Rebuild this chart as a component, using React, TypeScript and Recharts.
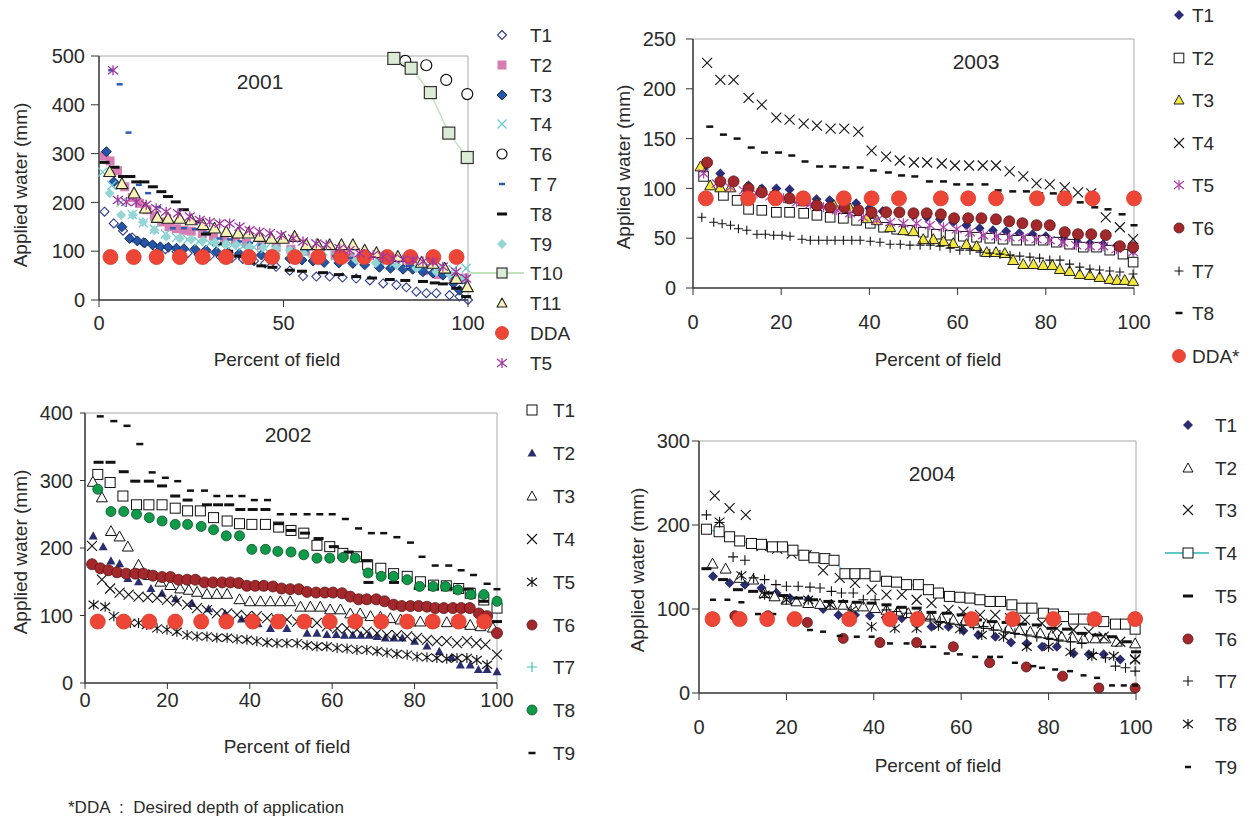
import React from "react";
import { ScatterChart, Scatter, XAxis, YAxis, ReferenceLine } from "recharts";

type Pt = [number, number];

// ---- 2001 (percent of field, applied water mm) ----
const y01T1: Pt[] = [[1.5,181],[4,157],[6.5,142],[9,128],[12,118],[15,110],[18,104],[21,99],[24,96],[27,93],[30,90],[33,88],[36,86],[39,84],[42,80],[45,75],[48,68],[51.7,60],[55.3,49],[58.9,48],[62.5,48],[66,46],[69.7,44],[73.4,40],[77,34],[80.6,31],[83.3,26],[86,17],[88.7,14],[91.4,14],[95,10],[97.7,7],[100,0]];
const y01T2: Pt[] = [[1.5,295],[3,285],[5,265],[7,232],[9,210],[11,198],[13,185],[15,172],[17,160],[19,150],[21,146],[23,143],[25,141],[28,136],[31,131],[34,126],[37,121],[40,116],[44,112],[48,108],[52,104],[56,100],[60,96],[64,92],[68,88],[72,84],[76,80],[80,75],[84,70],[88,60],[92,52],[96,48],[99,45]];
const y01T3: Pt[] = [[2,304],[4,242],[6.2,150],[8.3,126],[10.4,121],[12.4,117],[14.5,113],[16.6,109],[18.8,108],[21,106],[23,105],[26,104],[29,102],[31.8,99],[35,97],[38,95],[41,93],[44,92],[47,89],[51.7,85],[55,82],[58,80],[61,77],[65,76],[68.8,75],[72,72],[76,67],[79,65],[82.4,63],[85,63],[87.8,58],[90.5,55],[93.2,51],[96,34],[97.7,20]];
const y01T4: Pt[] = [[1,262],[3.5,235],[6,200],[9,175],[12,158],[15,145],[18,135],[21,128],[24,124],[27,120],[30,117],[33,114],[36,112],[39,110],[42,108],[45,105],[48,102],[52,98],[56,95],[60,92],[64,90],[68,87],[72,84],[76,80],[80,77],[84,74],[88,70],[92,66],[96,62],[99.5,65]];
const y01T6: Pt[] = [[83,490],[88.7,481],[94.1,451],[99.8,422]];
const y01T7: Pt[] = [[3.3,471],[5.6,442],[8,343],[10.8,236],[13.3,219],[16,190],[20,147],[23,147],[26,145],[29,138],[32.7,126],[35.5,124],[38,120],[41,117],[44,113],[48,108],[52,104],[56,100],[60,95],[64,90],[68,86],[72,82],[76,78],[80,75],[84,70],[88,62],[92,55],[96,45],[99,35]];
const y01T8: Pt[] = [[1.5,282],[4.2,272],[6.5,253],[8.5,253],[10.1,242],[12.3,242],[14.6,232],[16.9,222],[18.7,212],[20.8,201],[23,185],[26,160],[29,135],[32,115],[35,100],[38,90],[41,76],[44,70],[47,67],[51.7,61],[55,59],[60.7,56],[65,52],[69.7,48],[74,45],[78.8,42],[83,40],[87.8,38],[91,35],[93.2,33],[96.8,24],[99.5,7]];
const y01T9: Pt[] = [[2.9,219],[6,174],[9.2,174],[11.9,160],[15,143],[18.2,130],[21.9,126],[25,124],[28.2,122],[31.5,118],[34.5,115],[37.2,113],[40.8,109],[44.4,108],[48,106],[51.7,102],[55.3,98],[60.7,92],[65,88],[69.7,82],[75,76],[80.6,72],[86,65],[91.4,58],[95,52],[98.6,44]];
const y01T10: Pt[] = [[79.9,495],[84.6,475],[89.8,425],[94.8,342],[99.8,292]];
const y01T11: Pt[] = [[2.9,263],[6.2,238],[9.5,219],[12.6,188],[15.8,169],[18.7,167],[21.9,167],[25,164],[28.2,154],[31.3,147],[34.5,140],[37.7,137],[40.5,137],[43.5,130],[46.7,126],[49.9,126],[53,130],[56.2,113],[59.3,113],[62.5,113],[65.7,113],[68.8,113],[72,102],[75.2,97],[78.3,89],[81,89],[84.2,89],[87.4,77],[90.5,75],[93.7,65],[96.8,44],[99.8,27]];
const y01DDA: Pt[] = [[3.1,88],[9.4,88],[15.6,88],[21.9,88],[28.1,88],[34.4,88],[40.6,88],[46.9,88],[53.1,88],[59.4,88],[65.6,88],[71.9,88],[78.1,88],[84.4,88],[90.6,88],[96.9,88]];
const y01T5: Pt[] = [[3.8,471],[5.1,205],[7.4,201],[10.1,201],[12.8,195],[15.5,188],[18.2,181],[21.4,178],[24.6,171],[27.3,164],[30,160],[32.7,157],[35.4,157],[38.1,150],[40.8,143],[43.5,140],[46.3,137],[49.4,133],[52.6,126],[55.3,120],[58.9,116],[61.6,113],[65.2,106],[67.9,102],[70.6,96],[74.3,92],[77,89],[79.7,85],[82.4,83],[85.1,82],[87.8,79],[90.5,78],[93.2,68],[96.8,58],[99.5,44]];

// ---- 2003 ----
const y03T1: Pt[] = [[2.4,120],[6.2,115],[9.2,108],[12.6,103],[15.6,100],[18.9,100],[21.9,99],[25,92],[28,89],[31,88],[34,86],[37,85],[40,80],[43,77],[46.5,76],[50,73],[53,71],[56,69],[59,66],[62,63],[65,60],[68,58],[71,57],[74,55],[77,54],[80,52],[84,50],[87,47],[90,45],[93,44],[96,42],[99.8,38]];
const y03T2: Pt[] = [[2.4,112],[6.9,93],[10,88],[12.6,79],[15.6,78],[18.9,76],[21.9,76],[25.1,75],[28.1,73],[31.1,71],[34.1,70],[37.1,68],[40.2,65],[43.2,61],[46.2,59],[49.2,58],[52.2,56],[55.2,54],[58.3,53],[61.3,52],[64.3,51],[67.3,50],[70.3,49],[73.4,48],[76.4,48],[79.4,48],[82.4,46],[85.4,44],[88.5,41],[91.5,41],[94.5,38],[97.5,34],[99.8,26]];
const y03T3: Pt[] = [[1.7,122],[3.9,103],[6.2,101],[8.5,101],[12.2,101],[15.2,98],[18.3,93],[22,90],[25,87],[28.1,85],[32,83],[35.6,80],[39.4,70],[41.7,68],[44.7,61],[47.7,58],[50,57],[52.2,49],[54.5,49],[56.8,47],[59,45],[62,44],[64.3,42],[66.6,36],[68.7,36],[70.7,35],[72.6,28],[74.9,24],[77.2,24],[79.4,23],[81.5,23],[83.2,19],[85.4,17],[87.7,14],[90,13],[92.2,11],[94.5,9],[96.2,8],[97.9,8],[99.8,7]];
const y03T4: Pt[] = [[3.2,226],[6.2,209],[9.2,209],[12.6,191],[15.6,184],[18.9,171],[21.9,169],[25.1,165],[28.1,163],[31.2,160],[34.3,160],[37.5,157],[40.5,138],[43.8,132],[46.9,128],[50.1,126],[53.1,126],[56.4,125],[59.4,123],[62.6,123],[65.7,123],[68.7,123],[71.8,117],[74.9,112],[77.9,105],[80.9,104],[84.3,101],[87.3,96],[90.3,95],[93.6,71],[96.8,61],[99.8,49]];
const y03T5: Pt[] = [[2.4,115],[5.4,105],[8.5,101],[11.5,98],[14.5,95],[17.5,92],[20.5,90],[23.5,86],[26.6,84],[29.6,81],[32.6,78],[35.6,75],[38.6,71],[41.7,68],[44.7,66],[47.7,65],[50.7,65],[53.7,63],[56.8,61],[59.8,59],[62.8,56],[65.8,53],[68.8,52],[71.8,51],[74.9,51],[77.9,49],[80.9,48],[83.9,46],[86.9,43],[90,42],[93,42],[96,39],[99.8,36]];
const y03T6: Pt[] = [[3.2,126],[6.2,107],[9.2,107],[12.6,100],[15.6,96],[18.6,93],[21.9,90],[25.1,88],[28.1,83],[31.1,81],[34.3,81],[37.5,78],[40.5,76],[43.8,76],[46.8,76],[50,75],[53,75],[56.2,74],[59.2,70],[62.4,70],[65.4,70],[68.7,69],[71.7,67],[74.7,65],[77.9,63],[80.9,63],[84.3,56],[87.3,54],[90.3,54],[93.6,53],[96.8,42],[99.8,41]];
const y03T7: Pt[] = [[2,71],[4.7,66],[6.6,64.5],[8.5,63],[10.3,59.5],[12.2,58],[14.5,54],[16.4,54],[18.3,53],[20.2,53],[22,52],[24.7,49],[26.6,48],[28.5,48],[30.4,48],[32.2,48],[34.1,48],[36,48],[37.9,48],[40.2,47],[42.4,46],[44.7,44],[47,44],[49.2,43],[51.5,43],[53.8,43],[56,42],[58.3,40],[60.5,38],[62.8,38],[65.1,36],[67.3,35],[69.6,34],[71.9,33],[74.1,32],[76.4,31],[78.6,30],[80.9,28],[83.2,28],[85.4,24],[87.7,21],[90,19],[92.2,18],[94.5,17],[96.8,16],[99.8,14]];
const y03T8: Pt[] = [[3.8,162],[6.9,154],[10,150],[13.2,141],[16.2,136],[19.4,136],[22.4,133],[25.4,127],[28.7,122],[31.7,122],[34.7,121],[37.9,121],[40.9,118],[44.3,116],[47.3,113],[50.3,112],[53.6,107],[56.8,107],[59.8,104],[62.8,104],[66.2,104],[69.2,98],[72.5,97],[75.6,97],[78.6,95],[81.7,95],[84.7,91],[87.8,86],[91.1,81],[94.1,79],[97.3,74],[100,63]];
const y03DDA: Pt[] = [[2.9,90],[12.5,90],[18.7,90],[25,90],[34.2,90],[40.5,90],[46.7,90],[56.2,90],[62.4,90],[68.7,90],[78,90],[84.3,90],[90.6,90],[100,90]];

// ---- 2002 ----
const y02T1: Pt[] = [[3.1,309],[6.1,297],[9.2,277],[12.5,264],[15.5,264],[18.7,264],[21.9,259],[24.9,255],[28,255],[31.2,245],[34.5,240],[37.5,236],[40.5,235],[43.8,235],[47,231],[50,226],[53.1,222],[56.3,204],[59.4,202],[62.6,192],[65.9,187],[68.6,175],[71.8,170],[74.9,162],[78.2,158],[81.4,150],[84.6,145],[87.7,144],[90.7,140],[93.5,133],[96.8,123],[100,111]];
const y02T2: Pt[] = [[2,218],[4.4,202],[6.3,181],[8.4,177],[10.4,155],[13,150],[16,140],[18.7,133],[22,125],[26,118],[30,110],[34,103],[38,95],[42,88],[45,81],[49,81],[53.9,74],[56.3,74],[58.7,72],[61,72],[63,71],[65,71],[67,71],[69,71],[70.9,69],[72.9,67],[75,67],[77,67],[80,62],[83,55],[86,47],[89,38],[91.1,27],[93.5,27],[95.5,20],[97.6,20],[100,17]];
const y02T3: Pt[] = [[1.9,298],[4.1,275],[6.3,225],[8.4,217],[10.4,202],[13,175],[15.5,160],[18.3,150],[20.7,145],[23.1,140],[25.2,138],[27.2,135],[29.6,132],[32,132],[34.5,132],[37.5,124],[40,121],[42.6,121],[45,121],[47.4,121],[49.8,121],[52.3,113],[54.7,113],[57.1,113],[59.5,109],[62,109],[64.4,103],[66.8,103],[69.3,99],[71.7,98],[74.1,96],[76.6,94],[79,91],[81.4,91],[84.6,90],[87.8,90],[91.1,89],[93.5,86],[96,84],[99,82]];
const y02T4: Pt[] = [[1.7,203],[4.1,153],[6.1,140],[8.4,134],[10.6,131],[13,128],[15.2,127],[17.5,126],[19.9,123],[22.3,121],[24.8,116],[27.2,111],[29.6,108],[32,103],[34.5,103],[36.9,101],[39.3,99],[41.7,99],[44.2,96],[46.6,94],[49,94],[51.5,91],[53.9,89],[56.3,89],[58.7,84],[61.2,81],[63.6,81],[66,79],[68.4,76],[70.9,74],[73.3,71],[75.7,71],[78.2,69],[80.6,67],[83,64],[85.4,62],[87.8,62],[90.3,59],[92.7,62],[95,59],[97.2,57],[100,42]];
const y02T5: Pt[] = [[2.1,116],[4.9,113],[7,99],[9,91],[11,89],[13,89],[15,86],[17.5,81],[19.9,79],[22.3,76],[24.8,71],[27.2,69],[29.6,69],[32,67],[34.5,67],[36.9,65],[39.3,64],[41.7,62],[44.2,60],[46.6,59],[49,59],[51.5,59],[53.9,56],[56.3,54],[58.7,54],[61.2,52],[63.6,51],[66,49],[68.4,49],[70.9,47],[73.3,45],[75.7,43],[78.2,42],[80.6,39],[83,38],[85.4,37],[87.8,36],[90.3,37],[92.7,37],[95.1,34],[97.6,27]];
const y02T6: Pt[] = [[1.7,176],[3.7,170],[5.7,167],[7.8,164],[10,162],[12.2,162],[14.2,162],[16.5,159],[18.7,157],[20.7,157],[22.7,153],[24.8,153],[26.8,153],[29,149],[31.1,149],[33.3,149],[35.3,149],[37.3,148],[39.3,144],[41.3,144],[43.4,144],[45.6,143],[47.7,140],[49.8,139],[51.9,139],[53.9,135],[56.1,134],[58.2,134],[60.2,134],[62.4,133],[64.4,128],[66.4,124],[68.4,124],[70.7,124],[72.7,121],[74.9,116],[76.9,114],[79,114],[81,114],[83,113],[85,111],[87.1,111],[89.3,111],[91.3,111],[93.4,111],[95.6,103],[97.6,99],[100,74]];
const y02T7: Pt[] = [[3.3,327],[6.2,327],[9.4,313],[12.2,299],[15.5,299],[18.7,292],[21.9,277],[24.9,271],[29.6,264],[32.3,264],[35,264],[37.7,257],[40.7,257],[43.8,257],[47,236],[50,226],[53.4,222],[56.7,214],[60.4,202],[64,194],[68.4,181],[68.8,149],[75,149],[81,140],[84.6,140],[88,140],[93.1,139],[96.8,121],[100,91]];
const y02T8: Pt[] = [[3.1,287],[6.3,254],[9.4,254],[12.5,250],[15.6,245],[18.7,240],[21.9,235],[24.9,235],[28.2,232],[31.2,227],[34.3,218],[37.5,218],[40.5,198],[43.8,198],[46.8,195],[50,194],[53.1,190],[56.3,185],[59.4,185],[62.6,186],[65.6,185],[68.7,163],[71.9,158],[74.9,158],[78.2,153],[81.2,143],[84.5,143],[87.5,143],[90.5,138],[93.7,131],[96.8,131],[100,121]];
const y02T9: Pt[] = [[3.7,395],[7,388],[10.2,381],[13.3,354],[16.3,312],[19.5,304],[22.5,299],[25.6,285],[29,285],[32,277],[35.1,277],[38.1,277],[41.1,271],[44.3,271],[47.4,250],[50.6,250],[53.9,250],[57,250],[60,250],[63.2,243],[66.4,229],[69.5,222],[72.5,222],[75.7,216],[79,208],[81.8,187],[85,174],[88.3,174],[91.3,167],[94.3,160],[97.6,147],[100,139]];
const y02DDA: Pt[] = [[3.1,91],[9.4,91],[15.6,91],[21.9,91],[28.2,91],[34.3,91],[40.7,91],[46.9,91],[53.2,91],[59.4,91],[65.6,91],[71.9,91],[78.2,91],[84.4,91],[90.7,91],[96.9,91]];

// ---- 2004 ----
const y04T1: Pt[] = [[3.2,139],[7,131],[10.5,129],[14.3,125],[17.7,119],[20.8,113],[25,111],[28.4,100],[31.9,93],[35.7,93],[39.1,92],[42.7,90],[46.4,89],[49.8,85],[53.2,79],[57.1,79],[60.5,74],[63.9,69],[67.8,67],[71.4,60],[75,59],[78.5,55],[81.9,55],[85.7,47],[89.2,46],[92.6,46],[96.4,40]];
const y04T2: Pt[] = [[3.1,154],[6.1,148],[9.3,137],[12.4,135],[15,119],[17.3,115],[20,111],[22.3,109],[25,107],[27.7,106],[30.3,105],[33,105],[35.3,103],[37.6,103],[40.3,101],[42.9,99],[45.4,97],[47.9,95],[50.6,93],[53,91],[55.5,89],[58.2,87],[60.8,86],[63.2,83],[65.8,82],[68.1,80],[70.8,77],[73.3,75],[75.8,73],[78.1,71],[80.7,69],[83,67],[85.5,66],[88,65],[90.7,65],[93,65],[95.6,61],[99.8,59]];
const y04T3: Pt[] = [[3.6,235],[7,220],[10.7,212],[14.3,175],[17.9,172],[21.2,166],[24.6,164],[28.4,146],[32.2,137],[35.7,131],[39.5,123],[42.9,117],[46.4,117],[49.8,111],[53.2,107],[57.1,99],[60.5,97],[64.3,93],[67.8,93],[71.2,89],[74.6,87],[78.5,83],[81.9,77],[85.7,75],[89.2,73],[92.6,67],[96.4,61],[99.8,40]];
const y04T4: Pt[] = [[1.7,195],[4.6,192],[7,186],[9.3,181],[12,178],[14.3,177],[16.8,174],[19.1,174],[21.5,170],[24,164],[26.3,161],[28.8,160],[30.9,158],[33.4,142],[35.7,142],[38,142],[40.3,139],[42.9,133],[45.2,132],[47.5,129],[50.2,129],[52.5,123],[54.8,119],[57.3,115],[59.7,114],[62,113],[64.3,111],[66.6,109],[69,109],[71.6,105],[73.9,101],[76.2,101],[78.8,95],[81.1,94],[83.4,91],[85.7,88],[88,88],[90.3,87],[92.6,85],[95.3,82],[97.6,82],[99.8,76]];
const y04T5: Pt[] = [[1.7,148],[5.5,135],[8.9,123],[12.4,121],[15.8,119],[19.3,116],[22.7,113],[26.1,111],[29.6,109],[33,109],[36.1,108],[39.5,107],[42.9,105],[46.4,102],[49.8,101],[53.2,96],[56.7,95],[60.1,93],[63.6,87],[67,85],[70.4,84],[73.9,82],[77.3,81],[80.7,77],[84.2,76],[87.6,71],[91.1,69],[94.5,67],[97.9,61],[100,49]];
const y04T6: Pt[] = [[8.2,92],[15.8,92],[24.8,84],[33,65],[41.4,60],[49.8,60],[58.2,55],[66.5,36],[74.9,31],[83.2,20],[91.5,6],[99.8,6]];
const y04T7: Pt[] = [[1.7,212],[4.7,203],[7.8,162],[10.5,158],[12.5,137],[15,135],[17.6,129],[20,127],[22.7,127],[25.4,126],[27.7,125],[30.3,121],[32.6,119],[35.3,119],[37.6,111],[40.3,111],[42.9,99],[45.2,97],[47.5,95],[50.2,91],[52.9,88],[55.2,85],[57.4,83],[60.1,81],[62.8,81],[65.1,79],[67.4,75],[70.1,73],[72.3,71],[75,69],[77.3,67],[80,65],[82.3,63],[85,61],[87.6,59],[90.3,47],[93,42],[95.3,32],[97.6,30],[99.8,26]];
const y04T8: Pt[] = [[4.7,204],[9.7,140],[15,117],[20,111],[25,111],[30,105],[34.8,98],[39.5,79],[44.8,77],[49.8,77],[54.8,80],[59.7,76],[64.7,69],[69.7,67],[75,55],[80,55],[85,49],[89.9,44],[94.9,44],[99.8,40]];
const y04T9: Pt[] = [[3.2,111],[6.5,111],[9.7,108],[13.5,94],[17,94],[20.8,88],[25.4,75],[28.4,73],[32.2,68],[36.1,67],[39.5,67],[43.7,59],[47.5,59],[51.3,55],[53.6,55],[56.7,47],[59.7,46],[63.2,43],[66.6,43],[68.9,43],[72.3,36],[76.5,32],[78.5,30],[81.5,28],[84.9,26],[88,21],[91.1,18],[94.5,9],[97.2,9],[99.8,9]];
const y04DDA: Pt[] = [[3.1,88],[9.3,88],[15.6,88],[21.9,88],[34.4,88],[43.7,88],[50,88],[62.4,88],[71.8,88],[81.1,88],[90.5,88],[99.8,88]];

const FONT = '"Liberation Sans", Arial, sans-serif';
const TXT = "#2a2a2a";
const AXIS = "#333";
const RED = "#ee4636";
const MAROON = "#a3282b";

type Kind = "diamond" | "square" | "triangle" | "circle" | "x" | "plus" | "star" | "dash";
interface Mk { k: Kind; r: number; fill?: string; stroke?: string; sw?: number; h?: number }

function Mark({ m, cx, cy }: { m: Mk; cx: number; cy: number }) {
  const r = m.r;
  const fill = m.fill ?? "none";
  const stroke = m.stroke ?? "none";
  const sw = m.sw ?? 1;
  switch (m.k) {
    case "diamond":
      return <polygon points={`${cx},${cy - r} ${cx + r},${cy} ${cx},${cy + r} ${cx - r},${cy}`} fill={fill} stroke={stroke} strokeWidth={sw} />;
    case "square":
      return <rect x={cx - r} y={cy - r} width={2 * r} height={2 * r} fill={fill} stroke={stroke} strokeWidth={sw} />;
    case "triangle":
      return <polygon points={`${cx},${cy - r} ${cx + r},${cy + r * 0.8} ${cx - r},${cy + r * 0.8}`} fill={fill} stroke={stroke} strokeWidth={sw} strokeLinejoin="round" />;
    case "circle":
      return <circle cx={cx} cy={cy} r={r} fill={fill} stroke={stroke} strokeWidth={sw} />;
    case "x":
      return <path d={`M${cx - r},${cy - r}L${cx + r},${cy + r}M${cx - r},${cy + r}L${cx + r},${cy - r}`} stroke={stroke} strokeWidth={sw} fill="none" />;
    case "plus":
      return <path d={`M${cx - r},${cy}L${cx + r},${cy}M${cx},${cy - r}L${cx},${cy + r}`} stroke={stroke} strokeWidth={sw} fill="none" />;
    case "star":
      return <path d={`M${cx - r},${cy - r * 0.8}L${cx + r},${cy + r * 0.8}M${cx - r},${cy + r * 0.8}L${cx + r},${cy - r * 0.8}M${cx},${cy - r}L${cx},${cy + r}`} stroke={stroke} strokeWidth={sw} fill="none" />;
    case "dash":
    default: {
      const h = m.h ?? 2.5;
      return <rect x={cx - r} y={cy - h / 2} width={2 * r} height={h} fill={fill} />;
    }
  }
}

interface Series { name: string; data: Pt[]; m: Mk; line?: string; legend?: Mk | null }
interface PanelDef {
  left: number; top: number; width: number; height: number;
  margin: { top: number; right: number; bottom: number; left: number };
  yWidth: number; yMax: number; yTicks: number[]; xTicks: number[];
  yTickSize: number; yTickMargin: number; xTickSize: number; xTickMargin: number;
  series: Series[];
}

const openBlack = (k: Kind, r = 5): Mk => ({ k, r, fill: "#fff", stroke: "#111", sw: 1 });
const lineBlack = (k: Kind, r = 5): Mk => ({ k, r, stroke: "#111", sw: 1.1 });
const dda: Mk = { k: "circle", r: 7.5, fill: RED, stroke: "#dc3a2b", sw: 0.8 };
const maroon: Mk = { k: "circle", r: 5.5, fill: MAROON, stroke: "#5a1414", sw: 0.8 };

const panel01: PanelDef = {
  left: 0, top: 0, width: 500, height: 380,
  margin: { top: 56, right: 32, bottom: 0, left: 0 },
  yWidth: 99, yMax: 500, yTicks: [0, 100, 200, 300, 400, 500], xTicks: [0, 50, 100],
  yTickSize: 8, yTickMargin: 6, xTickSize: 7, xTickMargin: 9,
  series: [
    { name: "T1", data: y01T1, m: { k: "diamond", r: 4.5, fill: "none", stroke: "#2c3a8c", sw: 1.1 } },
    { name: "T2", data: y01T2, m: { k: "square", r: 4.5, fill: "#d77db3" } },
    { name: "T3", data: y01T3, m: { k: "diamond", r: 5, fill: "#2456a8", stroke: "#0e2350", sw: 0.9 } },
    { name: "T4", data: y01T4, m: { k: "x", r: 4.5, stroke: "#6bcccc", sw: 1.3 } },
    { name: "T6", data: y01T6, m: { k: "circle", r: 5.5, fill: "#fff", stroke: "#111", sw: 1.2 } },
    { name: "T 7", data: y01T7, m: { k: "dash", r: 3, h: 2.5, fill: "#2a5db0" } },
    { name: "T8", data: y01T8, m: { k: "dash", r: 5, h: 3, fill: "#111" } },
    { name: "T9", data: y01T9, m: { k: "diamond", r: 5, fill: "#94d6d4" } },
    { name: "T10", data: y01T10, m: { k: "square", r: 6, fill: "#dcebd6", stroke: "#333", sw: 1.2 }, line: "#c4e3bc" },
    { name: "T11", data: y01T11, m: { k: "triangle", r: 6, fill: "#f9f2b5", stroke: "#222", sw: 1.1 } },
    { name: "DDA", data: y01DDA, m: dda },
    { name: "T5", data: y01T5, m: { k: "star", r: 5, stroke: "#a0379f", sw: 1.3 } },
  ],
};

const panel03: PanelDef = {
  left: 560, top: 0, width: 600, height: 380,
  margin: { top: 39, right: 26, bottom: 12, left: 0 },
  yWidth: 133, yMax: 250, yTicks: [0, 50, 100, 150, 200, 250], xTicks: [0, 20, 40, 60, 80, 100],
  yTickSize: 7, yTickMargin: 10, xTickSize: 7, xTickMargin: 20,
  series: [
    { name: "T1", data: y03T1, m: { k: "diamond", r: 5, fill: "#2b2d78" } },
    { name: "T2", data: y03T2, m: openBlack("square", 4.8) },
    { name: "T3", data: y03T3, m: { k: "triangle", r: 5.5, fill: "#f3e63c", stroke: "#222", sw: 1 } },
    { name: "T4", data: y03T4, m: lineBlack("x", 5) },
    { name: "T5", data: y03T5, m: { k: "star", r: 5, stroke: "#b040b0", sw: 1.2 } },
    { name: "T6", data: y03T6, m: maroon },
    { name: "T7", data: y03T7, m: lineBlack("plus", 4.5) },
    { name: "T8", data: y03T8, m: { k: "dash", r: 3.5, h: 2.5, fill: "#111" } },
    { name: "DDA*", data: y03DDA, m: dda },
  ],
};

const panel02: PanelDef = {
  left: 0, top: 390, width: 530, height: 380,
  margin: { top: 23, right: 33, bottom: 7, left: 0 },
  yWidth: 85, yMax: 400, yTicks: [0, 100, 200, 300, 400], xTicks: [0, 20, 40, 60, 80, 100],
  yTickSize: 5, yTickMargin: 7, xTickSize: 6, xTickMargin: 4,
  series: [
    { name: "T1", data: y02T1, m: openBlack("square", 5) },
    { name: "T2", data: y02T2, m: { k: "triangle", r: 4.5, fill: "#2b2e6e" } },
    { name: "T3", data: y02T3, m: openBlack("triangle", 5.5) },
    { name: "T4", data: y02T4, m: lineBlack("x", 5) },
    { name: "T5", data: y02T5, m: lineBlack("star", 5) },
    { name: "T6", data: y02T6, m: maroon },
    { name: "T7", data: y02T7, m: { k: "dash", r: 5, h: 3, fill: "#111" }, legend: { k: "plus", r: 5, stroke: "#3cc0c0", sw: 1.2 } },
    { name: "T8", data: y02T8, m: { k: "circle", r: 5, fill: "#0f9a49", stroke: "#0b4f25", sw: 0.8 } },
    { name: "T9", data: y02T9, m: { k: "dash", r: 3.5, h: 2.5, fill: "#111" } },
    { name: "DDA", data: y02DDA, m: dda, legend: null },
  ],
};

const panel04: PanelDef = {
  left: 560, top: 400, width: 610, height: 380,
  margin: { top: 41, right: 34, bottom: 7, left: 0 },
  yWidth: 139, yMax: 300, yTicks: [0, 100, 200, 300], xTicks: [0, 20, 40, 60, 80, 100],
  yTickSize: 7, yTickMargin: 2, xTickSize: 7, xTickMargin: 20,
  series: [
    { name: "T1", data: y04T1, m: { k: "diamond", r: 5, fill: "#2b2d6e" } },
    { name: "T2", data: y04T2, m: openBlack("triangle", 5.5) },
    { name: "T3", data: y04T3, m: lineBlack("x", 5) },
    { name: "T4", data: y04T4, m: openBlack("square", 5), line: "#5cc8c8" },
    { name: "T5", data: y04T5, m: { k: "dash", r: 5, h: 3, fill: "#111" } },
    { name: "T6", data: y04T6, m: { k: "circle", r: 5, fill: MAROON, stroke: "#4a1010", sw: 0.8 } },
    { name: "T7", data: y04T7, m: lineBlack("plus", 5) },
    { name: "T8", data: y04T8, m: lineBlack("star", 5) },
    { name: "T9", data: y04T9, m: { k: "dash", r: 3, h: 2.5, fill: "#111" } },
    { name: "DDA", data: y04DDA, m: dda, legend: null },
  ],
};

function Panel({ p }: { p: PanelDef }) {
  return (
    <div style={{ position: "absolute", left: p.left, top: p.top }}>
      <ScatterChart width={p.width} height={p.height} margin={p.margin}>
        <XAxis
          type="number"
          dataKey="x"
          domain={[0, 100]}
          ticks={p.xTicks}
          interval={0}
          height={80}
          tickSize={p.xTickSize}
          tickMargin={p.xTickMargin}
          axisLine={{ stroke: AXIS, strokeWidth: 1.5 }}
          tickLine={{ stroke: AXIS }}
          tick={{ fontSize: 20, fill: TXT, fontFamily: FONT }}
        />
        <YAxis
          type="number"
          dataKey="y"
          domain={[0, p.yMax]}
          ticks={p.yTicks}
          interval={0}
          width={p.yWidth}
          tickSize={p.yTickSize}
          tickMargin={p.yTickMargin}
          axisLine={{ stroke: AXIS, strokeWidth: 1.5 }}
          tickLine={{ stroke: AXIS }}
          tick={{ fontSize: 20, fill: TXT, fontFamily: FONT }}
        />
        <ReferenceLine x={100} stroke="#a8a8a8" strokeWidth={1} />
        <ReferenceLine y={p.yMax} stroke="#a8a8a8" strokeWidth={1} />
        {p.series.map((s) => (
          <Scatter
            key={s.name}
            name={s.name}
            data={s.data.map(([x, y]) => ({ x, y }))}
            shape={(q: any) => <Mark m={s.m} cx={q.cx} cy={q.cy} />}
            line={s.line ? { stroke: s.line, strokeWidth: 1.5 } : undefined}
            lineType="joint"
            isAnimationActive={false}
          />
        ))}
      </ScatterChart>
    </div>
  );
}

function Legend({ p, iconX, textX, y0, step, lineFrom }: { p: PanelDef; iconX: number; textX: number; y0: number; step: number; lineFrom?: number }) {
  const items = p.series.filter((s) => s.legend !== null);
  return (
    <>
      {items.map((s, i) => {
        const y = y0 + i * step;
        const m = s.legend ?? s.m;
        const icon = { ...m, r: m.k === "circle" && m.r > 6 ? 6.5 : Math.min(m.r, 5) };
        return (
          <React.Fragment key={s.name}>
            {s.line && lineFrom !== undefined && (
              <div style={{ position: "absolute", left: lineFrom, top: y - 1, width: textX - lineFrom - 6, height: 1.5, background: s.line }} />
            )}
            <svg style={{ position: "absolute", left: iconX - 10, top: y - 10 }} width={20} height={20}>
              <Mark m={icon} cx={10} cy={10} />
            </svg>
            <div style={{ position: "absolute", left: textX, top: y, transform: "translateY(-50%)", fontFamily: FONT, fontSize: 19, color: TXT, lineHeight: 1, whiteSpace: "pre" }}>
              {s.name}
            </div>
          </React.Fragment>
        );
      })}
    </>
  );
}

function Txt({ x, y, text, size = 19, rotate = false }: { x: number; y: number; text: string; size?: number; rotate?: boolean }) {
  return (
    <div
      style={{
        position: "absolute",
        left: x,
        top: y,
        transform: `translate(-50%, -50%)${rotate ? " rotate(-90deg)" : ""}`,
        fontFamily: FONT,
        fontSize: size,
        color: TXT,
        lineHeight: 1,
        whiteSpace: "nowrap",
      }}
    >
      {text}
    </div>
  );
}

export default function App() {
  return (
    <div style={{ position: "absolute", left: 0, top: 0, width: 1245, height: 818, background: "#fff", overflow: "hidden" }}>
      <Panel p={panel01} />
      <Panel p={panel03} />
      <Panel p={panel02} />
      <Panel p={panel04} />

      <Txt x={260} y={81} text="2001" size={21} />
      <Txt x={976} y={61} text="2003" size={21} />
      <Txt x={288} y={434} text="2002" size={21} />
      <Txt x={932} y={473} text="2004" size={21} />

      <Txt x={277} y={359} text="Percent of field" />
      <Txt x={938} y={359} text="Percent of field" />
      <Txt x={287} y={746} text="Percent of field" />
      <Txt x={938} y={765} text="Percent of field" />

      <Txt x={20} y={185} text="Applied water (mm)" rotate />
      <Txt x={623} y={167} text="Applied water (mm)" rotate />
      <Txt x={20} y={552} text="Applied water (mm)" rotate />
      <Txt x={637} y={570} text="Applied water (mm)" rotate />

      <Legend p={panel01} iconX={502} textX={530} y0={35} step={29.8} lineFrom={470} />
      <Legend p={panel03} iconX={1179} textX={1192} y0={15} step={42.6} />
      <Legend p={panel02} iconX={532} textX={553} y0={410} step={42.9} />
      <Legend p={panel04} iconX={1188} textX={1215} y0={425} step={42.7} lineFrom={1165} />

      <div style={{ position: "absolute", left: 68, top: 807, transform: "translateY(-50%)", fontFamily: FONT, fontSize: 17, color: TXT, lineHeight: 1, whiteSpace: "pre" }}>
        {"*DDA  :  Desired depth of application"}
      </div>
    </div>
  );
}
